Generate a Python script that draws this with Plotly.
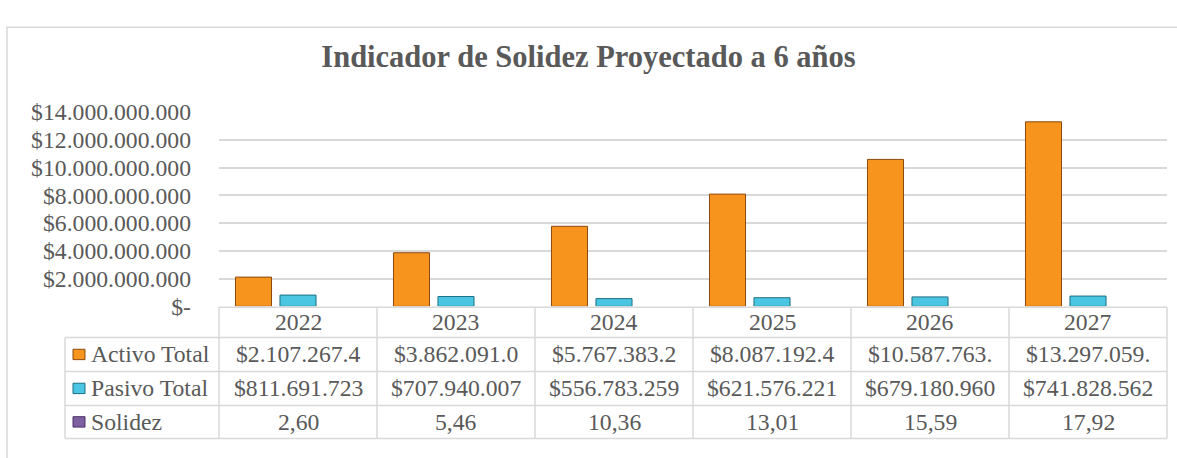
import plotly.graph_objects as go

anios = ['2022', '2023', '2024', '2025', '2026', '2027']
activo = [2107267400, 3862091000, 5767383200, 8087192400, 10587763000, 13297059000]
pasivo = [811691723, 707940007, 556783259, 621576221, 679180960, 741828562]
solidez = [2.60, 5.46, 10.36, 13.01, 15.59, 17.92]
series = ['Activo Total', 'Pasivo Total', 'Solidez']
y_ticks = [0, 2e9, 4e9, 6e9, 8e9, 10e9, 12e9, 14e9]

W, H = 1177, 458
GRIS = '#595959'
LINEA = '#D9D9D9'
FUENTE = 'Liberation Serif, Times New Roman, serif'
colores = ['#F7941E', '#4BC6E2', '#7E5FA2']
bordes = ['#8A4A10', '#1D6F85', '#4A3366']


def px(x):
    return x / W


def py(y):
    return 1 - y / H


def pesos(v):
    # formato contable de Excel, recortado al ancho de la celda
    s = '$' + '{:,.0f}'.format(v).replace(',', '.')
    return s[:12]


def etiqueta_eje(v):
    if v == 0:
        return '$-'
    return '$' + '{:,.0f}'.format(v).replace(',', '.')


# geometria de la tabla de datos (pixeles)
x0, x_tab, x1 = 65, 219, 1167
filas = [312, 344, 380, 416, 451]
ancho_col = (x1 - x_tab) / len(anios)

fig = go.Figure()
for i, (nombre, valores) in enumerate(zip(series, [activo, pasivo, solidez])):
    # la serie Solidez es tan pequena que no se ve en esta escala
    ancho_borde = 0 if nombre == 'Solidez' else 1
    fig.add_trace(go.Bar(x=anios, y=valores, name=nombre, showlegend=False,
                         marker=dict(color=colores[i],
                                     line=dict(color=bordes[i], width=ancho_borde))))

shapes = []
# marco del grafico
shapes.append(dict(type='rect', xref='paper', yref='paper', x0=px(7), x1=px(1190),
                   y0=py(15), y1=py(480), line=dict(color=LINEA, width=1.5)))
# lineas horizontales de la tabla
for i, yy in enumerate(filas):
    xa = x_tab if i == 0 else x0
    shapes.append(dict(type='line', xref='paper', yref='paper', x0=px(xa), x1=px(x1),
                       y0=py(yy), y1=py(yy), line=dict(color=LINEA, width=1.5)))
# lineas verticales
shapes.append(dict(type='line', xref='paper', yref='paper', x0=px(x0), x1=px(x0),
                   y0=py(filas[1]), y1=py(filas[-1]), line=dict(color=LINEA, width=1.5)))
for j in range(len(anios) + 1):
    xx = x_tab + j * ancho_col
    shapes.append(dict(type='line', xref='paper', yref='paper', x0=px(xx), x1=px(xx),
                       y0=py(filas[0]), y1=py(filas[-1]), line=dict(color=LINEA, width=1.5)))

annotations = []
fuente = dict(family=FUENTE, size=23.7, color=GRIS)
# encabezado con los anios
for j, a in enumerate(anios):
    annotations.append(dict(text=a, xref='paper', yref='paper', showarrow=False,
                            x=px(x_tab + (j + 0.5) * ancho_col), y=py((filas[0] + filas[1]) / 2),
                            xanchor='center', yanchor='middle', font=fuente))
# filas de datos
textos = [[pesos(v) for v in activo], [pesos(v) for v in pasivo],
          ['{:.2f}'.format(v).replace('.', ',') for v in solidez]]
for i, nombre in enumerate(series):
    yc = (filas[i + 1] + filas[i + 2]) / 2
    shapes.append(dict(type='rect', xref='paper', yref='paper', x0=px(73), x1=px(85),
                       y0=py(yc - 5.5), y1=py(yc + 5.5), fillcolor=colores[i],
                       line=dict(color=bordes[i], width=1)))
    annotations.append(dict(text=nombre, xref='paper', yref='paper', showarrow=False,
                            x=px(89), y=py(yc), xanchor='left', yanchor='middle', font=fuente))
    for j, t in enumerate(textos[i]):
        annotations.append(dict(text=t, xref='paper', yref='paper', showarrow=False,
                                x=px(x_tab + (j + 0.5) * ancho_col), y=py(yc),
                                xanchor='center', yanchor='middle', font=fuente))

fig.update_layout(
    width=W, height=H,
    margin=dict(l=0, r=0, t=0, b=0),
    paper_bgcolor='white', plot_bgcolor='white',
    barmode='group', bargap=0.155, bargroupgap=0.19,
    title=dict(text='<b>Indicador de Solidez Proyectado a 6 años</b>', x=0.5, y=py(56),
               xanchor='center', yanchor='middle',
               font=dict(family=FUENTE, size=30.5, color=GRIS)),
    xaxis=dict(domain=[px(x_tab), px(x1)], showticklabels=False, showgrid=False,
               zeroline=False, showline=False),
    yaxis=dict(domain=[py(311), py(105)], range=[0, 14e9], tickvals=y_ticks,
               ticktext=[etiqueta_eje(v) for v in y_ticks], showgrid=True,
               gridcolor=LINEA, gridwidth=1.5, zeroline=False, showline=False,
               ticklabelstandoff=27, tickfont=dict(family=FUENTE, size=23.7, color=GRIS)),
    shapes=shapes,
    annotations=annotations,
)

fig.write_html('out.html', config={'displayModeBar': False},
               post_script="document.body.style.margin='0';")
